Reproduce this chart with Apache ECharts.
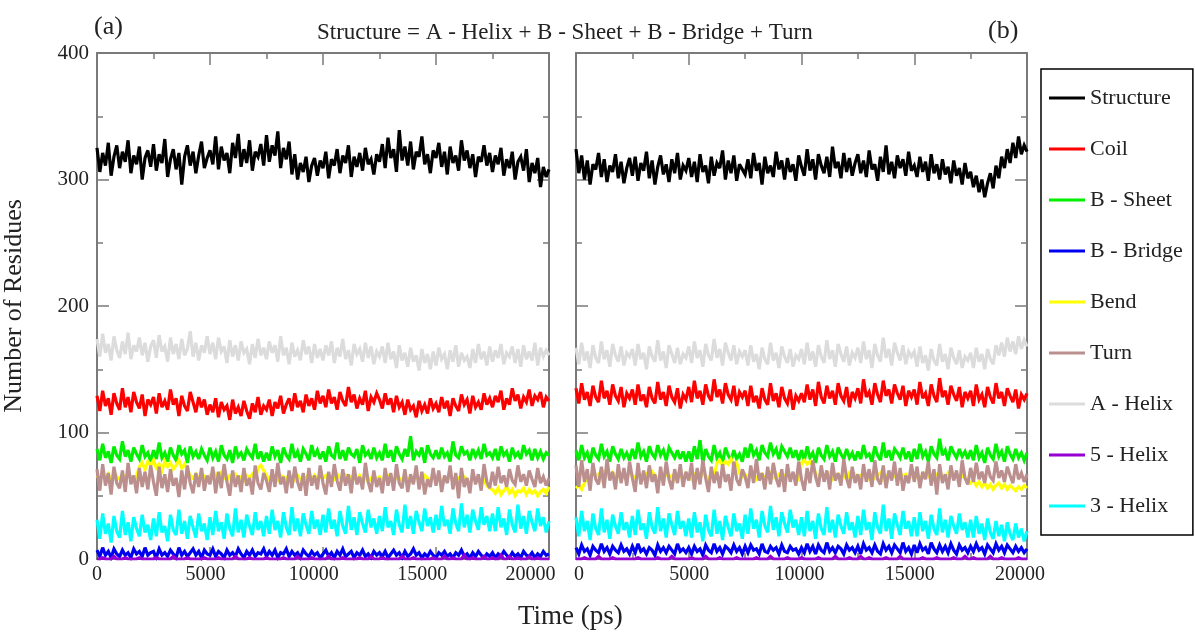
<!DOCTYPE html>
<html>
<head>
<meta charset="utf-8">
<title>Secondary structure vs time</title>
<script src="https://cdn.jsdelivr.net/npm/echarts@6/dist/echarts.min.js"></script>
<style>
  html, body { margin: 0; padding: 0; background: #fff; }
  #main-chart { width: 1195px; height: 632px; }
</style>
</head>
<body>
<div id="main-chart"></div>
<script>
// sampling: one frame every 125 ps, 0 .. 20000 ps (20 frames per row below)
const timeStepPs = 125;

const seriesNames = ['Structure', 'Coil', 'B - Sheet', 'B - Bridge', 'Bend', 'Turn', 'A - Helix', '5 - Helix', '3 - Helix'];
const xTickLabels = [0, 5000, 10000, 15000, 20000];

/* panel (a) */
const structureA = [
  325, 306, 321, 311, 329, 303, 318, 327, 309, 322, 314, 331, 305, 319, 312, 326, 300, 317, 323, 310,
  328, 307, 320, 313, 332, 302, 316, 324, 308, 321, 296, 318, 327, 311, 322, 305, 319, 330, 309, 317,
  323, 312, 334, 308, 326, 315, 321, 305, 329, 317, 336, 310, 324, 313, 331, 307, 322, 318, 328, 311,
  335, 314, 327, 319, 338, 309, 325, 316, 330, 304, 320, 300, 313, 306, 318, 298, 311, 317, 303, 315,
  309, 322, 301, 316, 311, 324, 305, 319, 313, 327, 302, 318, 310, 321, 307, 325, 312, 316, 304, 320,
  314, 328, 309, 333, 317, 324, 306, 339, 315, 326, 311, 330, 308, 322, 318, 334, 312, 320, 305, 323,
  317, 329, 310, 322, 304, 326, 313, 319, 307, 331, 315, 323, 309, 320, 302, 318, 314, 327, 311, 321,
  306, 319, 312, 325, 303, 316, 309, 322, 300, 314, 318, 307, 324, 298, 313, 305, 317, 294, 310, 302,
  308];
const coilA = [
  129, 117, 133, 121, 127, 114, 131, 123, 118, 135, 120, 128, 116, 132, 124, 119, 130, 113, 126, 122,
  128, 115, 131, 120, 125, 118, 134, 122, 127, 113, 129, 121, 117, 132, 124, 116, 128, 120, 126, 114,
  122, 116, 127, 112, 124, 118, 121, 110, 126, 115, 120, 113, 125, 117, 111, 123, 116, 128, 114, 121,
  118, 126, 113, 124, 119, 129, 115, 122, 127, 117, 131, 120, 125, 116, 130, 121, 127, 118, 133, 123,
  129, 120, 134, 123, 128, 118, 132, 125, 121, 136, 124, 130, 119, 127, 122, 133, 117, 128, 124, 131,
  126, 119, 131, 122, 127, 116, 129, 120, 124, 114, 126, 118, 121, 112, 125, 117, 122, 115, 127, 119,
  123, 116, 128, 119, 125, 113, 127, 121, 117, 130, 122, 126, 115, 129, 120, 124, 118, 131, 122, 127,
  120, 129, 124, 133, 118, 127, 122, 135, 125, 130, 119, 128, 124, 134, 121, 129, 126, 132, 120, 128,
  125];
const sheetA = [
  87, 78, 91, 80, 85, 76, 89, 82, 79, 93, 81, 86, 77, 88, 83, 79, 90, 81, 84, 77,
  86, 79, 92, 80, 84, 77, 88, 82, 78, 90, 83, 86, 76, 89, 81, 85, 79, 87, 82, 78,
  88, 80, 85, 77, 90, 82, 79, 86, 76, 89, 81, 84, 78, 87, 83, 80, 91, 79, 85, 77,
  84, 78, 89, 81, 86, 76, 88, 82, 79, 91, 80, 85, 77, 87, 83, 78, 90, 81, 86, 79,
  85, 77, 89, 82, 80, 92, 79, 86, 78, 88, 83, 81, 87, 76, 90, 82, 85, 79, 88, 80,
  84, 78, 91, 80, 86, 77, 89, 83, 79, 87, 81, 97, 78, 85, 82, 88, 76, 90, 83, 80,
  86, 79, 88, 81, 84, 77, 93, 82, 80, 89, 83, 85, 78, 87, 81, 86, 79, 91, 82, 84,
  80, 87, 78, 89, 82, 85, 77, 88, 81, 84, 79, 90, 83, 86, 78, 87, 80, 85, 79, 84,
  82];
const bridgeA = [
  7, 2, 9, 3, 6, 1, 8, 4, 2, 7, 3, 5, 1, 8, 4, 6, 2, 9, 3, 5,
  6, 1, 8, 3, 5, 2, 7, 4, 1, 9, 3, 6, 2, 5, 8, 3, 6, 1, 7, 4,
  3, 8, 2, 6, 4, 1, 7, 3, 5, 2, 8, 4, 1, 6, 3, 7, 2, 5, 4, 8,
  2, 6, 3, 7, 1, 5, 4, 8, 2, 6, 3, 5, 1, 7, 4, 2, 6, 3, 5, 1,
  4, 7, 2, 5, 1, 6, 3, 8, 2, 4, 6, 1, 5, 3, 7, 2, 4, 1, 6, 3,
  5, 2, 6, 1, 4, 7, 3, 5, 1, 6, 2, 4, 8, 3, 5, 1, 4, 2, 6, 3,
  1, 5, 3, 6, 2, 4, 1, 5, 3, 7, 2, 4, 1, 5, 2, 6, 3, 1, 4, 2,
  5, 1, 4, 2, 6, 3, 1, 5, 2, 4, 1, 6, 3, 2, 5, 1, 4, 2, 6, 3,
  4];
const bendA = [
  66, 63, 68, 64, 67, 62, 69, 65, 63, 67, 64, 68, 65, 62, 66, 73, 76, 71, 77, 74,
  78, 72, 75, 70, 77, 73, 76, 71, 74, 78, 72, 75, 70, 66, 64, 67, 63, 68, 65, 62,
  66, 64, 67, 63, 68, 65, 62, 66, 64, 67, 63, 65, 62, 66, 64, 67, 63, 72, 74, 70,
  66, 63, 67, 64, 62, 66, 65, 63, 67, 64, 62, 66, 63, 65, 64, 67, 62, 66, 63, 65,
  64, 66, 62, 65, 63, 67, 64, 62, 66, 63, 65, 64, 62, 66, 63, 65, 61, 64, 66, 63,
  65, 62, 64, 66, 63, 61, 65, 64, 62, 66, 63, 64, 61, 65, 63, 62, 66, 64, 62, 65,
  63, 65, 61, 64, 62, 66, 63, 61, 64, 62, 65, 63, 60, 64, 62, 63, 59, 62, 58, 56,
  55, 52, 56, 51, 54, 57, 52, 55, 50, 54, 53, 56, 51, 55, 52, 54, 50, 53, 55, 52,
  57];
const turnA = [
  71, 54, 75, 58, 68, 51, 73, 60, 56, 70, 53, 76, 59, 66, 52, 72, 57, 69, 55, 74,
  61, 50, 73, 56, 67, 53, 71, 58, 64, 49, 70, 55, 74, 60, 52, 68, 57, 72, 54, 66,
  59, 73, 52, 69, 56, 75, 61, 50, 70, 57, 66, 53, 72, 58, 64, 51, 74, 60, 55, 68,
  62, 53, 71, 57, 76, 59, 65, 52, 70, 56, 73, 61, 54, 68, 50, 72, 58, 66, 55, 74,
  60, 51, 69, 57, 75, 62, 54, 71, 58, 67, 52, 73, 59, 65, 55, 76, 61, 53, 70, 57,
  64, 52, 72, 58, 68, 54, 75, 60, 56, 71, 53, 67, 59, 74, 55, 69, 51, 63, 57, 72,
  58, 70, 53, 66, 60, 74, 55, 68, 48, 72, 57, 64, 52, 71, 59, 67, 54, 75, 61, 56,
  69, 58, 73, 60, 66, 57, 71, 62, 59, 74, 61, 67, 58, 70, 63, 57, 72, 60, 65, 58,
  64];
const aHelixA = [
  174, 160, 178, 163, 170, 157, 176, 165, 159, 172, 162, 179, 158, 169, 164, 175, 161, 171, 156, 168,
  173, 159, 177, 164, 168, 156, 175, 162, 170, 158, 174, 161, 166, 180, 160, 171, 157, 169, 163, 176,
  162, 171, 158, 175, 164, 168, 155, 173, 160, 169, 157, 172, 163, 166, 154, 170, 159, 174, 161, 167,
  158, 172, 163, 169, 156, 176, 161, 167, 154, 171, 160, 165, 157, 173, 162, 168, 155, 170, 159, 166,
  157, 169, 161, 172, 155, 167, 160, 174, 158, 165, 153, 170, 162, 166, 156, 171, 159, 168, 154, 164,
  160, 168, 155, 171, 158, 164, 151, 169, 157, 163, 152, 167, 156, 161, 149, 166, 155, 162, 150, 164,
  153, 167, 158, 162, 150, 165, 156, 169, 152, 163, 157, 160, 151, 166, 155, 170, 158, 164, 153, 168,
  156, 165, 159, 170, 154, 163, 160, 168, 155, 166, 152, 169, 158, 164, 157, 171, 153, 167, 160, 165,
  161];
const helix5A = [
  0, 0, 1, 0, 0, 0, 2, 0, 0, 0, 1, 0, 0, 0, 0, 1, 0, 0, 0, 0,
  0, 1, 0, 0, 0, 0, 0, 2, 0, 0, 0, 0, 1, 0, 0, 0, 0, 0, 1, 0,
  0, 0, 0, 1, 0, 0, 0, 0, 0, 2, 0, 0, 0, 0, 1, 0, 0, 0, 0, 0,
  1, 0, 0, 0, 0, 0, 1, 0, 0, 0, 0, 2, 0, 0, 0, 0, 1, 0, 0, 0,
  0, 0, 2, 0, 0, 0, 0, 1, 0, 0, 0, 0, 0, 1, 0, 0, 0, 2, 0, 0,
  0, 1, 0, 0, 0, 0, 0, 0, 2, 0, 0, 0, 1, 0, 0, 0, 0, 0, 0, 1,
  0, 0, 0, 2, 0, 0, 1, 0, 0, 0, 3, 0, 0, 1, 0, 0, 0, 2, 0, 0,
  1, 0, 0, 3, 0, 0, 2, 0, 0, 1, 0, 0, 0, 2, 0, 0, 1, 0, 0, 0,
  0];
const helix3A = [
  31, 16, 36, 20, 28, 13, 34, 22, 17, 38, 19, 29, 14, 33, 24, 18, 35, 21, 27, 15,
  32, 18, 37, 21, 26, 14, 35, 23, 19, 39, 20, 30, 16, 34, 25, 17, 36, 22, 28, 15,
  33, 19, 38, 22, 29, 16, 36, 24, 18, 40, 21, 31, 17, 35, 26, 19, 37, 23, 30, 18,
  34, 20, 39, 23, 30, 17, 37, 25, 19, 41, 22, 32, 18, 36, 27, 20, 38, 24, 31, 19,
  35, 21, 40, 24, 31, 18, 38, 26, 20, 42, 23, 33, 19, 37, 28, 21, 39, 25, 32, 20,
  34, 22, 41, 25, 30, 19, 39, 27, 21, 43, 24, 34, 20, 38, 29, 22, 40, 26, 33, 21,
  35, 23, 42, 26, 31, 20, 40, 28, 22, 44, 25, 35, 21, 39, 30, 23, 41, 27, 34, 22,
  36, 22, 41, 25, 32, 19, 39, 27, 21, 43, 24, 34, 20, 38, 29, 22, 40, 26, 33, 21,
  30];

/* panel (b) */
const structureB = [
  324, 305, 319, 300, 315, 296, 312, 308, 321, 302, 316, 298, 311, 306, 320, 301, 314, 297, 309, 317,
  303, 318, 299, 313, 307, 322, 301, 315, 296, 310, 319, 304, 312, 298, 316, 305, 321, 300, 311, 307,
  317, 302, 314, 298, 320, 306, 311, 297, 318, 303, 313, 309, 323, 300, 315, 305, 319, 299, 312, 308,
  304, 316, 301, 321, 307, 313, 296, 318, 305, 311, 302, 322, 308, 315, 300, 317, 306, 312, 299, 319,
  310, 303, 324, 307, 316, 300, 320, 311, 305, 318, 302, 326, 309, 314, 301, 321, 306, 317, 303, 313,
  320, 305, 315, 302, 323, 308, 312, 299, 318, 306, 327, 304, 314, 301, 319, 309, 316, 303, 322, 307,
  311, 302, 318, 306, 314, 299, 320, 305, 312, 300, 316, 304, 310, 297, 315, 303, 309, 296, 313, 301,
  306, 294, 303, 290, 300, 286, 297, 305, 293, 311, 301, 318, 309, 324, 313, 329, 317, 334, 320, 327,
  322];
const coilB = [
  135, 123, 139, 126, 132, 121, 137, 128, 124, 141, 127, 133, 122, 138, 129, 125, 136, 120, 131, 127,
  134, 122, 138, 125, 130, 120, 136, 127, 123, 140, 126, 132, 121, 137, 128, 124, 135, 119, 130, 126,
  136, 124, 141, 127, 133, 122, 138, 129, 125, 142, 128, 134, 123, 139, 130, 126, 137, 121, 132, 128,
  133, 121, 137, 124, 129, 119, 135, 126, 122, 139, 125, 131, 120, 136, 127, 123, 134, 118, 129, 125,
  131, 124, 138, 126, 134, 121, 140, 128, 123, 137, 127, 133, 122, 139, 129, 125, 136, 120, 132, 127,
  135, 123, 142, 128, 132, 122, 139, 130, 124, 141, 129, 134, 123, 138, 131, 126, 137, 121, 133, 128,
  134, 122, 140, 127, 131, 121, 138, 129, 124, 143, 128, 133, 122, 137, 130, 125, 136, 120, 132, 127,
  133, 121, 138, 126, 130, 120, 136, 128, 123, 139, 127, 132, 121, 135, 129, 124, 134, 119, 130, 126,
  131];
const sheetB = [
  86, 78, 90, 80, 84, 76, 88, 82, 79, 91, 81, 85, 77, 89, 83, 79, 87, 80, 84, 78,
  87, 79, 92, 81, 85, 77, 89, 83, 80, 90, 82, 86, 78, 88, 84, 80, 86, 79, 85, 77,
  85, 77, 89, 79, 94, 76, 87, 81, 78, 90, 80, 84, 76, 88, 82, 78, 86, 79, 83, 77,
  88, 80, 91, 82, 86, 78, 90, 84, 81, 92, 83, 87, 79, 89, 85, 81, 88, 80, 86, 78,
  86, 78, 89, 80, 84, 76, 88, 82, 79, 90, 81, 85, 77, 88, 83, 79, 87, 80, 84, 78,
  85, 79, 90, 81, 83, 77, 89, 82, 78, 92, 80, 86, 78, 87, 84, 80, 88, 79, 85, 77,
  87, 79, 91, 81, 85, 77, 89, 83, 80, 95, 82, 86, 78, 89, 84, 80, 87, 81, 85, 79,
  86, 78, 90, 80, 84, 76, 88, 82, 79, 91, 81, 85, 77, 89, 83, 79, 87, 80, 84, 78,
  84];
const bridgeB = [
  9, 4, 11, 6, 8, 3, 10, 7, 5, 12, 6, 9, 4, 10, 7, 5, 11, 6, 8, 4,
  10, 5, 12, 6, 8, 4, 9, 7, 3, 11, 6, 9, 5, 10, 7, 4, 12, 6, 8, 5,
  9, 4, 10, 6, 8, 3, 11, 7, 5, 12, 6, 9, 4, 10, 8, 5, 11, 6, 9, 4,
  10, 5, 11, 7, 8, 4, 12, 6, 5, 10, 7, 9, 4, 11, 6, 5, 10, 7, 8, 4,
  9, 5, 12, 6, 10, 4, 11, 7, 5, 13, 6, 9, 5, 10, 8, 4, 11, 7, 9, 5,
  10, 4, 12, 7, 9, 5, 11, 6, 4, 12, 7, 10, 5, 11, 8, 5, 13, 6, 9, 4,
  11, 5, 12, 7, 9, 4, 13, 8, 5, 11, 6, 10, 5, 12, 7, 4, 11, 7, 9, 5,
  10, 6, 12, 7, 9, 4, 11, 8, 5, 12, 7, 10, 5, 11, 8, 5, 10, 6, 9, 5,
  8];
const bendB = [
  56, 58, 55, 60, 66, 64, 68, 65, 67, 63, 69, 66, 64, 68, 65, 67, 63, 66, 64, 68,
  66, 64, 68, 65, 63, 67, 64, 69, 66, 63, 67, 65, 68, 64, 66, 63, 67, 65, 64, 68,
  66, 63, 67, 65, 64, 68, 66, 63, 67, 64, 76, 78, 74, 77, 75, 79, 73, 76, 68, 65,
  67, 64, 66, 68, 63, 65, 67, 64, 66, 68, 64, 65, 67, 63, 66, 68, 64, 67, 65, 63,
  76, 78, 75, 77, 74, 68, 65, 67, 64, 66, 68, 63, 65, 67, 64, 66, 63, 68, 65, 67,
  64, 66, 68, 65, 63, 67, 64, 66, 68, 63, 65, 67, 64, 66, 63, 68, 65, 67, 64, 66,
  63, 67, 65, 64, 68, 66, 63, 65, 67, 64, 66, 63, 68, 65, 64, 67, 63, 66, 64, 62,
  60, 63, 58, 61, 57, 60, 56, 59, 55, 58, 60, 56, 59, 55, 58, 56, 54, 57, 55, 58,
  56];
const turnB = [
  74, 57, 78, 61, 71, 54, 76, 63, 59, 73, 56, 79, 62, 69, 55, 75, 60, 72, 58, 77,
  64, 53, 76, 59, 70, 56, 74, 61, 67, 52, 73, 58, 77, 63, 55, 71, 60, 75, 57, 69,
  62, 76, 55, 72, 59, 78, 64, 53, 73, 60, 69, 56, 75, 61, 67, 54, 77, 63, 58, 71,
  65, 56, 74, 60, 79, 62, 68, 55, 73, 59, 76, 64, 57, 71, 53, 75, 61, 69, 58, 77,
  63, 54, 72, 60, 78, 65, 57, 74, 61, 70, 55, 76, 62, 68, 58, 79, 64, 56, 73, 60,
  67, 55, 75, 61, 71, 57, 78, 63, 59, 74, 56, 70, 62, 77, 58, 72, 54, 66, 60, 75,
  61, 73, 56, 69, 63, 77, 58, 71, 51, 75, 60, 67, 55, 74, 62, 70, 57, 78, 64, 59,
  72, 61, 76, 63, 69, 60, 74, 65, 62, 77, 64, 70, 61, 73, 66, 60, 75, 63, 68, 61,
  67];
const aHelixB = [
  167, 154, 171, 157, 164, 151, 169, 159, 155, 172, 158, 165, 152, 170, 161, 156, 168, 153, 163, 160,
  166, 153, 170, 158, 163, 150, 168, 160, 156, 173, 157, 164, 151, 169, 162, 155, 167, 154, 162, 159,
  168, 155, 172, 159, 165, 152, 170, 161, 157, 174, 159, 166, 153, 171, 163, 157, 169, 154, 164, 160,
  165, 153, 169, 156, 162, 150, 167, 158, 154, 171, 157, 163, 151, 168, 160, 155, 166, 152, 161, 158,
  166, 154, 171, 157, 164, 152, 169, 160, 155, 173, 158, 165, 152, 170, 162, 156, 168, 153, 163, 159,
  167, 155, 172, 158, 165, 151, 170, 161, 156, 175, 159, 166, 153, 171, 163, 157, 169, 154, 164, 160,
  164, 152, 168, 155, 161, 149, 166, 157, 153, 170, 156, 162, 150, 167, 159, 154, 165, 151, 160, 157,
  163, 151, 167, 156, 162, 150, 166, 158, 154, 169, 161, 171, 160, 175, 164, 172, 162, 176, 166, 173,
  168];
const helix5B = [
  0, 0, 0, 1, 0, 0, 0, 0, 2, 0, 0, 0, 0, 1, 0, 0, 0, 0, 0, 0,
  0, 0, 1, 0, 0, 0, 0, 0, 0, 1, 0, 0, 0, 0, 2, 0, 0, 0, 0, 0,
  0, 1, 0, 0, 0, 0, 2, 0, 0, 0, 0, 1, 0, 0, 0, 0, 0, 1, 0, 0,
  0, 0, 0, 0, 1, 0, 0, 0, 0, 2, 0, 0, 0, 0, 0, 1, 0, 0, 0, 0,
  1, 0, 0, 0, 0, 0, 1, 0, 0, 0, 0, 0, 2, 0, 0, 0, 0, 1, 0, 0,
  0, 2, 0, 0, 1, 0, 0, 0, 0, 0, 1, 0, 0, 0, 0, 2, 0, 0, 0, 0,
  0, 0, 0, 1, 0, 0, 0, 0, 1, 0, 0, 0, 0, 0, 1, 0, 0, 0, 2, 0,
  0, 1, 0, 0, 0, 0, 0, 2, 0, 0, 0, 1, 0, 0, 0, 0, 0, 1, 0, 0,
  0];
const helix3B = [
  33, 18, 38, 22, 30, 15, 36, 24, 19, 40, 21, 31, 16, 35, 26, 20, 37, 23, 29, 17,
  34, 19, 39, 23, 28, 16, 37, 25, 20, 41, 22, 32, 17, 36, 27, 19, 38, 24, 30, 18,
  32, 17, 37, 21, 29, 14, 35, 23, 18, 39, 20, 30, 15, 34, 25, 18, 36, 22, 28, 16,
  35, 20, 40, 24, 31, 17, 38, 26, 21, 42, 23, 33, 18, 37, 28, 21, 39, 25, 31, 19,
  33, 18, 38, 22, 30, 16, 36, 24, 19, 41, 21, 31, 17, 35, 26, 20, 37, 23, 29, 17,
  34, 19, 39, 23, 29, 15, 37, 25, 20, 43, 22, 32, 16, 36, 27, 19, 38, 24, 30, 18,
  33, 18, 37, 22, 30, 16, 35, 24, 19, 40, 21, 31, 17, 34, 26, 20, 36, 23, 29, 17,
  31, 17, 34, 20, 28, 15, 32, 21, 16, 30, 18, 27, 14, 29, 20, 15, 28, 17, 24, 14,
  22];

const panelA = [structureA, coilA, sheetA, bridgeA, bendA, turnA, aHelixA, helix5A, helix3A];
const panelB = [structureB, coilB, sheetB, bridgeB, bendB, turnB, aHelixB, helix5B, helix3B];
const lineColors = ['#000000', '#ff0000', '#00f000', '#0000f0', '#ffff00', '#bc8f8f', '#dcdcdc', '#9400d3', '#00ffff'];

const FONT = 'Liberation Serif';
const AXIS_GRAY = '#7a7a7a';

// [t, value] pairs for the value axis
function toPairs(values) {
    return values.map((v, i) => [i * timeStepPs, v]);
}

// axis with only line + inward ticks (frame of a panel)
function frameX(gridIndex, position) {
    return {
        type: 'value', gridIndex: gridIndex, position: position,
        min: 0, max: 20000, interval: 5000,
        axisLine: {show: true, onZero: false, lineStyle: {color: AXIS_GRAY, width: 2}},
        axisTick: {show: true, inside: true, length: 12, lineStyle: {color: AXIS_GRAY, width: 1.5}},
        minorTick: {show: true, splitNumber: 2, length: 6, lineStyle: {color: AXIS_GRAY, width: 1.5}},
        axisLabel: {show: false},
        splitLine: {show: false}
    };
}
function frameY(gridIndex, position, withLabels) {
    return {
        type: 'value', gridIndex: gridIndex, position: position,
        min: 0, max: 400, interval: 100,
        axisLine: {show: true, onZero: false, lineStyle: {color: AXIS_GRAY, width: 2}},
        axisTick: {show: true, inside: true, length: 12, lineStyle: {color: AXIS_GRAY, width: 1.5}},
        minorTick: {show: true, splitNumber: 2, length: 6, lineStyle: {color: AXIS_GRAY, width: 1.5}},
        axisLabel: {show: withLabels, margin: 8, fontFamily: FONT, fontSize: 21, color: '#222'},
        splitLine: {show: false}
    };
}
// label-only axis (the printed tick labels sit a little off the ticks)
function labelX(gridIndex, min, max) {
    return {
        type: 'value', gridIndex: gridIndex, position: 'bottom',
        min: min, max: max,
        axisLine: {show: false, onZero: false},
        axisTick: {show: false},
        axisLabel: {
            show: true, customValues: xTickLabels, margin: 6,
            formatter: (v) => String(v),
            fontFamily: FONT, fontSize: 20, color: '#222'
        },
        splitLine: {show: false}
    };
}

const series = [];
[panelA, panelB].forEach((panel, p) => {
    panel.forEach((values, k) => {
        series.push({
            name: seriesNames[k],
            type: 'line',
            xAxisIndex: p * 3,
            yAxisIndex: p * 2,
            data: toPairs(values),
            showSymbol: false,
            color: lineColors[k],
            lineStyle: {width: 3.2, color: lineColors[k], join: 'miter', miterLimit: 3},
            animation: false,
            silent: true
        });
    });
});

const myChart = echarts.init(document.getElementById('main-chart'));
const option = {
    backgroundColor: '#ffffff',
    animation: false,
    title: {
        text: 'Structure = A - Helix + B - Sheet + B - Bridge + Turn',
        left: 312, top: 16,
        textStyle: {fontFamily: FONT, fontSize: 23, fontWeight: 'normal', color: '#222'}
    },
    grid: [
        {left: 93, top: 53, width: 456, height: 506},
        {left: 576, top: 53, width: 451, height: 506}
    ],
    xAxis: [
        frameX(0, 'bottom'), frameX(0, 'top'), labelX(0, 0, 20850),
        frameX(1, 'bottom'), frameX(1, 'top'), labelX(1, -136, 20320)
    ],
    yAxis: [
        Object.assign(frameY(0, 'left', true), {
            name: 'Number of Residues', nameLocation: 'middle', nameGap: 70, nameRotate: 90,
            nameTextStyle: {fontFamily: FONT, fontSize: 26, color: '#222'}
        }),
        frameY(0, 'right', false),
        frameY(1, 'left', false),
        frameY(1, 'right', false)
    ],
    legend: {
        data: seriesNames,
        orient: 'vertical',
        left: 1041, top: 69,
        icon: 'rect',
        itemWidth: 36, itemHeight: 3, itemGap: 29,
        padding: [18, 10, 18, 8],
        borderColor: '#000', borderWidth: 1.5,
        selectedMode: false,
        textStyle: {fontFamily: FONT, fontSize: 22, lineHeight: 20, color: '#222'}
    },
    graphic: [
        {type: 'text', left: 94, top: 14, style: {text: '(a)', font: '26px "Liberation Serif"', fill: '#222'}},
        {type: 'text', left: 988, top: 18, style: {text: '(b)', font: '26px "Liberation Serif"', fill: '#222'}},
        {type: 'text', left: 518, top: 603, style: {text: 'Time (ps)', font: '27px "Liberation Serif"', fill: '#222'}}
    ],
    series: series
};
myChart.setOption(option);
</script>
</body>
</html>
